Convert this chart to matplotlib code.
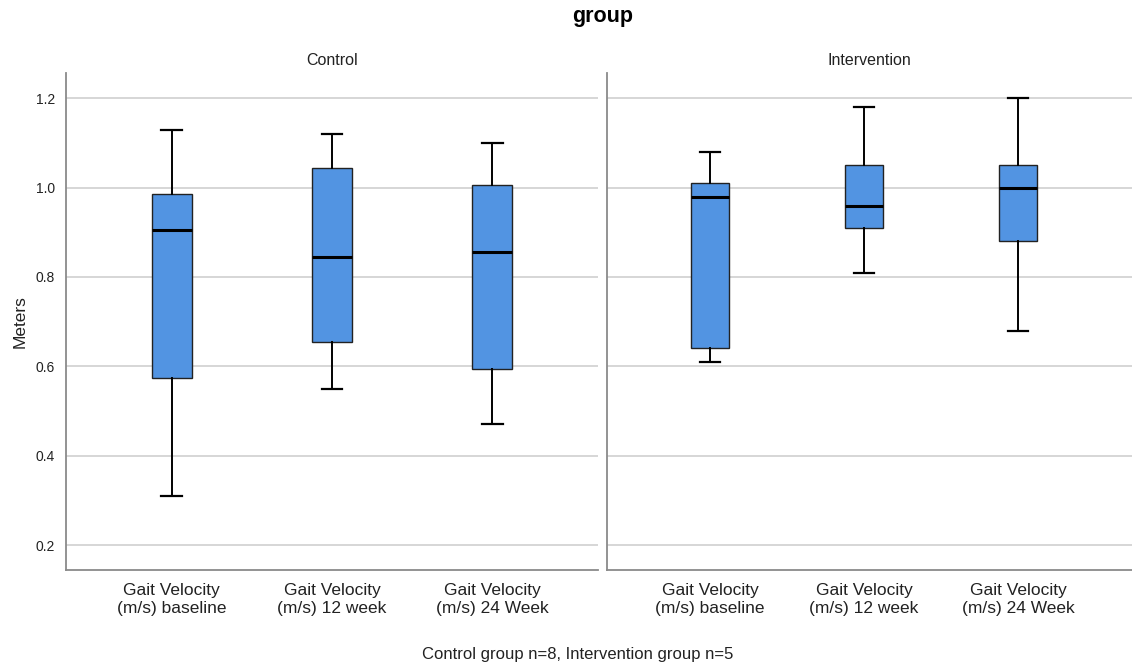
"""SPSS-style grouped boxplot of gait velocity by group."""

import matplotlib

matplotlib.use("Agg")
import matplotlib.pyplot as plt
from matplotlib.ticker import FormatStrFormatter

plt.rcParams["font.family"] = ["Liberation Sans", "DejaVu Sans"]

# values (m/s)
timepoints = ["Gait Velocity\n(m/s) baseline", "Gait Velocity\n(m/s) 12 week", "Gait Velocity\n(m/s) 24 Week"]
groups = ["Control", "Intervention"]

control_low = [0.31, 0.55, 0.47]
control_q1 = [0.575, 0.655, 0.595]
control_med = [0.905, 0.845, 0.855]
control_q3 = [0.985, 1.045, 1.005]
control_high = [1.13, 1.12, 1.10]

interv_low = [0.61, 0.81, 0.68]
interv_q1 = [0.64, 0.91, 0.88]
interv_med = [0.98, 0.96, 1.00]
interv_q3 = [1.01, 1.05, 1.05]
interv_high = [1.08, 1.18, 1.20]

y_ticks = [0.2, 0.4, 0.6, 0.8, 1.0, 1.2]

BOX_COLOR = "#5294e2"
GRID_COLOR = "#d0d0d0"
SPINE_COLOR = "#8a8a8a"
TEXT_COLOR = "#222222"


def make_stats(low, q1, med, q3, high):
    return [
        {"whislo": lo, "q1": a, "med": m, "q3": b, "whishi": hi, "fliers": []}
        for lo, a, m, b, hi in zip(low, q1, med, q3, high)
    ]


fig = plt.figure(figsize=(11.32, 6.66), dpi=100)
ax_left = fig.add_axes([66 / 1132, 0.144, (598 - 66) / 1132, 0.746])
ax_right = fig.add_axes([607 / 1132, 0.144, (1132 - 607) / 1132, 0.746], sharey=ax_left)

panels = [
    (ax_left, groups[0], make_stats(control_low, control_q1, control_med, control_q3, control_high), (0.34, 3.66)),
    (ax_right, groups[1], make_stats(interv_low, interv_q1, interv_med, interv_q3, interv_high), (0.33, 3.74)),
]

for ax, title, stats, xlim in panels:
    ax.bxp(
        stats,
        positions=[1, 2, 3],
        widths=0.25,
        patch_artist=True,
        showfliers=False,
        capwidths=0.13,
        boxprops=dict(facecolor=BOX_COLOR, edgecolor="#222222", linewidth=1.0),
        medianprops=dict(color="black", linewidth=2.2),
        whiskerprops=dict(color="black", linewidth=1.4),
        capprops=dict(color="black", linewidth=1.6),
        zorder=3,
    )
    ax.set_xlim(*xlim)
    ax.set_ylim(0.144, 1.256)
    ax.set_yticks(y_ticks)
    ax.grid(axis="y", color=GRID_COLOR, linewidth=1.2, zorder=0)
    ax.set_axisbelow(True)
    ax.set_xticks([1, 2, 3])
    ax.set_xticklabels(timepoints, fontsize=12.5, color=TEXT_COLOR, linespacing=1.25)
    ax.tick_params(axis="x", length=0, pad=9)
    ax.tick_params(axis="y", length=0, labelsize=10, pad=8, labelcolor=TEXT_COLOR)
    for side in ("top", "right"):
        ax.spines[side].set_visible(False)
    for side in ("left", "bottom"):
        ax.spines[side].set_color(SPINE_COLOR)
        ax.spines[side].set_linewidth(1.3)
    ax.set_title(title, fontsize=11.5, pad=6, color=TEXT_COLOR)

ax_left.yaxis.set_major_formatter(FormatStrFormatter("%.1f"))
ax_right.tick_params(axis="y", labelleft=False)
ax_left.set_ylabel("Meters", fontsize=12.5, color=TEXT_COLOR, labelpad=6)

fig.text(0.532, 0.975, "group", ha="center", va="center", fontsize=15.5, fontweight="bold")
fig.text(0.51, 0.017, "Control group n=8, Intervention group n=5", ha="center", va="center",
         fontsize=12, color=TEXT_COLOR)

fig.savefig("out.png", dpi=100, facecolor="white")
